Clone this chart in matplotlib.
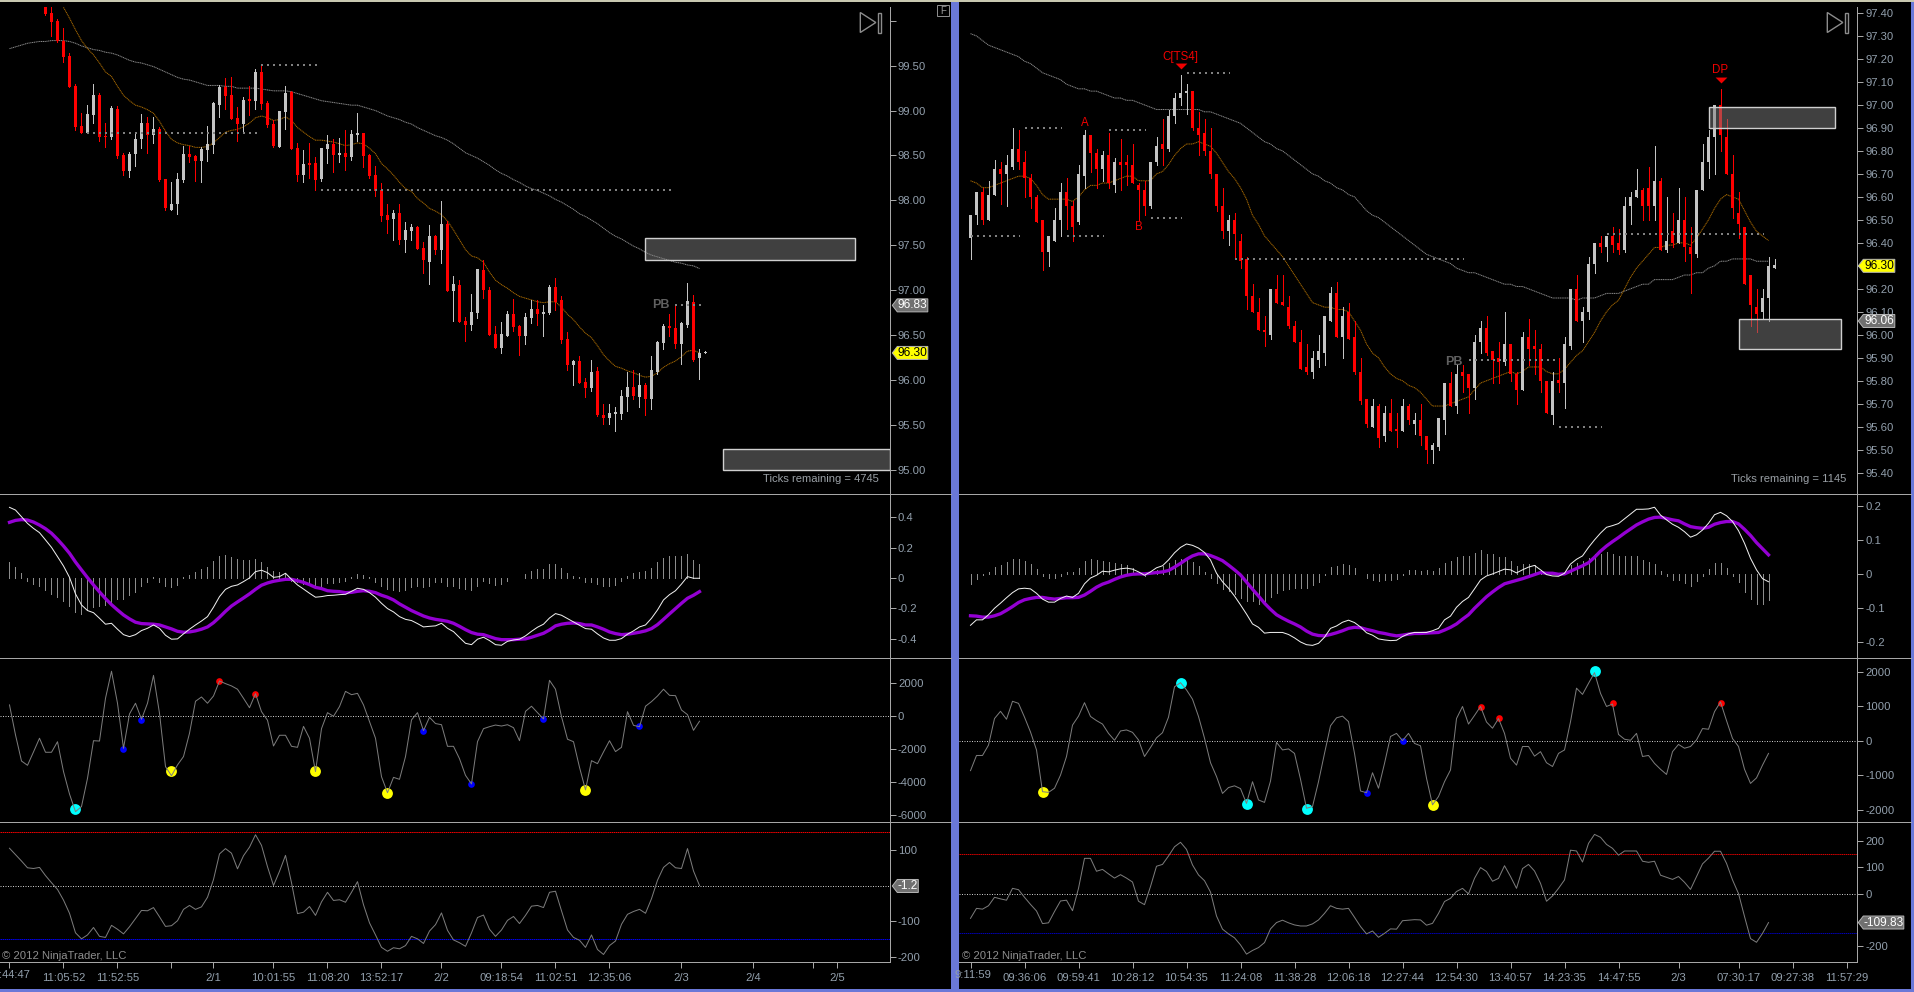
import numpy as np
import matplotlib
matplotlib.use("Agg")
import matplotlib.pyplot as plt
from matplotlib.patches import Polygon, Rectangle

plt.rcParams["font.family"] = ["Liberation Sans", "DejaVu Sans"]
plt.rcParams["axes.unicode_minus"] = False

# ---- left chart: candles start at bar 6, the older ones are above the panel
left_high = [100.20, 100.20, 100.02, 99.92, 99.64, 99.30, 98.97, 99.06, 99.30, 99.20, 98.86, 99.05, 99.05, 98.53, 98.54, 98.75, 98.96, 98.93, 98.93, 98.82,
             98.24, 98.20, 98.30, 98.61, 98.61, 98.50, 98.59, 98.83, 99.10, 99.28, 99.36, 99.37, 99.04, 99.15, 99.27, 99.46, 99.51, 99.11, 98.90, 99.00,
             99.27, 99.22, 98.64, 98.56, 98.64, 98.48, 98.58, 98.73, 98.68, 98.69, 98.78, 98.78, 98.97, 98.75, 98.52, 98.38, 98.19, 97.96, 97.89, 97.96,
             97.76, 97.74, 97.71, 97.54, 97.73, 97.61, 97.99, 97.77, 97.16, 97.11, 96.70, 96.96, 97.24,
             97.34, 97.03, 96.60, 96.64, 96.77, 96.90, 96.61, 96.74, 96.89, 96.89, 96.83, 97.06, 97.13, 96.93, 96.53, 96.22, 96.27, 96.02, 96.22, 96.14,
             95.73, 95.73, 95.70, 95.89, 96.09, 96.11, 96.08, 95.97, 96.27, 96.43, 96.62, 96.73, 96.83, 96.64, 97.08, 96.95, 96.34, 96.32]
left_body_top = [100.20, 100.09, 100.00, 99.77, 99.61, 99.27, 98.83, 98.96, 99.17, 99.17, 98.72, 99.03, 99.02, 98.50, 98.52, 98.68, 98.86, 98.86, 98.79, 98.79,
                 98.24, 97.96, 98.24, 98.52, 98.52, 98.49, 98.57, 98.63, 99.08, 99.26, 99.26, 99.17, 98.92, 99.12, 99.13, 99.43, 99.43, 99.08, 98.85, 99.00,
                 99.20, 99.21, 98.58, 98.40, 98.42, 98.42, 98.58, 98.63, 98.63, 98.53, 98.53, 98.74, 98.75, 98.75, 98.50, 98.28, 98.12, 97.84, 97.86, 97.86,
                 97.67, 97.70, 97.70, 97.47, 97.60, 97.60, 97.74, 97.74, 97.07, 97.06, 96.66, 96.76, 97.24,
                 97.22, 97.00, 96.51, 96.51, 96.73, 96.73, 96.60, 96.70, 96.79, 96.79, 96.76, 97.03, 97.03, 96.89, 96.46, 96.21, 96.21, 95.98, 96.09, 96.10,
                 95.61, 95.63, 95.64, 95.82, 95.92, 95.92, 95.94, 95.94, 96.11, 96.42, 96.60, 96.60, 96.58, 96.63, 96.88, 96.87, 96.30, 96.31]
left_body_bottom = [100.08, 99.99, 99.77, 99.60, 99.26, 98.82, 98.75, 98.75, 98.95, 98.71, 98.71, 98.71, 98.49, 98.33, 98.33, 98.52, 98.68, 98.73, 98.73, 98.23,
                    97.91, 97.89, 97.96, 98.23, 98.48, 98.44, 98.44, 98.56, 98.62, 99.06, 99.16, 98.91, 98.85, 98.85, 99.11, 99.11, 99.07, 98.84, 98.61, 98.59,
                    98.98, 98.57, 98.28, 98.28, 98.39, 98.23, 98.24, 98.57, 98.50, 98.50, 98.48, 98.48, 98.73, 98.49, 98.27, 98.10, 97.83, 97.78, 97.79, 97.56,
                    97.56, 97.66, 97.46, 97.33, 97.31, 97.45, 97.45, 96.99, 96.99, 96.65, 96.61, 96.61, 96.74,
                    97.00, 96.50, 96.36, 96.36, 96.49, 96.59, 96.49, 96.49, 96.69, 96.73, 96.73, 96.74, 96.87, 96.44, 96.17, 96.17, 95.97, 95.91, 95.91, 95.61,
                    95.57, 95.57, 95.62, 95.62, 95.81, 95.82, 95.81, 95.79, 95.79, 96.09, 96.41, 96.58, 96.40, 96.40, 96.61, 96.22, 96.24, 96.30]
left_low = [100.06, 99.83, 99.76, 99.54, 99.26, 98.78, 98.75, 98.75, 98.86, 98.66, 98.59, 98.68, 98.47, 98.28, 98.26, 98.38, 98.58, 98.53, 98.64, 98.22,
            97.89, 97.89, 97.85, 98.20, 98.43, 98.22, 98.20, 98.44, 98.53, 98.93, 99.02, 98.91, 98.66, 98.76, 98.95, 99.02, 99.02, 98.82, 98.59, 98.59,
            98.80, 98.57, 98.22, 98.20, 98.25, 98.12, 98.22, 98.42, 98.32, 98.43, 98.34, 98.45, 98.66, 98.37, 98.25, 98.05, 97.77, 97.64, 97.56, 97.51,
            97.42, 97.56, 97.46, 97.19, 97.07, 97.40, 97.30, 96.99, 96.66, 96.65, 96.43, 96.56, 96.69,
            96.91, 96.50, 96.36, 96.30, 96.49, 96.54, 96.28, 96.40, 96.63, 96.61, 96.49, 96.73, 96.78, 96.41, 96.11, 95.94, 95.97, 95.81, 95.88, 95.60,
            95.51, 95.51, 95.43, 95.56, 95.65, 95.79, 95.70, 95.61, 95.68, 96.07, 96.34, 96.49, 96.36, 96.18, 96.59, 96.21, 96.01, 96.30]
left_colors = ("RRRRRRRGGRRGRRGGGRGRRGGGRRGGGGRRRGRGRRRGGRRGRRGGRGRGGRRRRRGRGGRRGRGRGRRGG"
               "RRRGGRRGGRGGRRRGRRGRRGGGGRGRGGGRRGGRGG")

left_ma_fast = [100.15, 100.03, 99.90, 99.78, 99.69, 99.62, 99.53, 99.43, 99.38, 99.27, 99.17, 99.11, 99.06, 99.04, 99.01, 98.97, 98.88, 98.77, 98.68, 98.64,
                98.62, 98.61, 98.59, 98.59, 98.60, 98.64, 98.70, 98.76, 98.78, 98.79, 98.82, 98.86, 98.92, 98.94, 98.92, 98.89, 98.90, 98.93, 98.89, 98.81,
                98.76, 98.71, 98.67, 98.67, 98.66, 98.65, 98.63, 98.61, 98.62, 98.64, 98.63, 98.58, 98.52, 98.41, 98.35, 98.28, 98.20, 98.13, 98.10, 98.02,
                97.97, 97.91, 97.88, 97.84, 97.77, 97.67, 97.56, 97.45, 97.38, 97.36,
                97.31, 97.20, 97.11, 97.06, 97.02, 96.97, 96.93, 96.91, 96.89, 96.87, 96.86, 96.87, 96.87, 96.81, 96.73, 96.67, 96.59, 96.52, 96.47, 96.38,
                96.28, 96.21, 96.15, 96.13, 96.10, 96.08, 96.05, 96.03, 96.04, 96.08, 96.14, 96.18, 96.21, 96.26, 96.32, 96.33, 96.30]
left_ma_slow = [99.69, 99.71, 99.73, 99.75, 99.76, 99.77, 99.77, 99.78, 99.78, 99.78, 99.77, 99.75, 99.72, 99.70, 99.68, 99.67, 99.65, 99.64, 99.62, 99.59,
                99.56, 99.54, 99.53, 99.51, 99.49, 99.46, 99.43, 99.40, 99.37, 99.35, 99.34, 99.32, 99.30, 99.28, 99.28, 99.28, 99.27, 99.27, 99.25, 99.25,
                99.25, 99.25, 99.24, 99.23, 99.22, 99.22, 99.22, 99.21, 99.19, 99.17, 99.15, 99.13, 99.11, 99.10, 99.09, 99.08, 99.07, 99.06, 99.06, 99.04,
                99.02, 99.00, 98.97, 98.94, 98.92, 98.90, 98.87, 98.85, 98.81, 98.78, 98.75, 98.72, 98.70, 98.67, 98.63, 98.58, 98.53, 98.50, 98.47,
                98.43, 98.39, 98.34, 98.30, 98.27, 98.23, 98.20, 98.16, 98.13, 98.11, 98.08, 98.05, 98.01, 97.98, 97.94, 97.90, 97.85, 97.82, 97.78, 97.74,
                97.69, 97.64, 97.60, 97.57, 97.53, 97.49, 97.46, 97.42, 97.39, 97.37, 97.35, 97.33, 97.31, 97.30, 97.28, 97.27, 97.24]

left_macd = [0.466, 0.448, 0.404, 0.360, 0.327, 0.299, 0.251, 0.202, 0.141, 0.079, 0.004, -0.105, -0.178, -0.215, -0.229, -0.266, -0.305, -0.299, -0.338, -0.374,
             -0.387, -0.374, -0.347, -0.332, -0.310, -0.332, -0.378, -0.404, -0.402, -0.369, -0.338, -0.310, -0.284, -0.255, -0.193, -0.123, -0.075, -0.055, -0.046, -0.024,
             0.000, 0.042, 0.051, 0.035, 0.004, 0.009, 0.031, -0.009, -0.046, -0.073, -0.101, -0.127, -0.123, -0.116, -0.114, -0.110, -0.108, -0.088, -0.068, -0.075,
             -0.097, -0.127, -0.167, -0.202, -0.224, -0.255, -0.273, -0.281, -0.301, -0.323, -0.319, -0.316, -0.299, -0.332, -0.354, -0.393, -0.431, -0.440, -0.404,
             -0.391, -0.413, -0.440, -0.444, -0.418, -0.409, -0.404, -0.382, -0.352, -0.325, -0.305, -0.264, -0.235, -0.246, -0.268, -0.290, -0.312, -0.334, -0.338, -0.369,
             -0.396, -0.411, -0.411, -0.400, -0.371, -0.349, -0.323, -0.310, -0.266, -0.211, -0.145, -0.110, -0.084, -0.040, 0.009, -0.002, -0.002]
left_signal = [0.367, 0.380, 0.385, 0.382, 0.369, 0.349, 0.325, 0.295, 0.255, 0.211, 0.163, 0.105, 0.053, 0.002, -0.046, -0.092, -0.136, -0.176, -0.211, -0.244,
               -0.270, -0.292, -0.301, -0.303, -0.305, -0.310, -0.323, -0.336, -0.352, -0.358, -0.356, -0.349, -0.338, -0.323, -0.295, -0.259, -0.220, -0.185, -0.158, -0.132,
               -0.105, -0.075, -0.048, -0.033, -0.022, -0.015, -0.009, -0.009, -0.018, -0.029, -0.044, -0.062, -0.070, -0.084, -0.088, -0.090, -0.097, -0.095, -0.088, -0.084,
               -0.088, -0.097, -0.114, -0.127, -0.145, -0.171, -0.193, -0.215, -0.233, -0.251, -0.264, -0.273, -0.279, -0.286, -0.299, -0.319, -0.341, -0.360, -0.371,
               -0.374, -0.387, -0.400, -0.407, -0.407, -0.407, -0.404, -0.402, -0.391, -0.378, -0.365, -0.343, -0.316, -0.305, -0.299, -0.297, -0.301, -0.310, -0.310, -0.323,
               -0.338, -0.356, -0.367, -0.374, -0.371, -0.365, -0.358, -0.349, -0.334, -0.308, -0.273, -0.237, -0.202, -0.167, -0.134, -0.114, -0.090]
left_hist = [0.105, 0.073, 0.033, -0.020, -0.040, -0.053, -0.079, -0.105, -0.127, -0.149, -0.185, -0.224, -0.237, -0.211, -0.193, -0.185, -0.178, -0.156, -0.141, -0.136,
             -0.114, -0.090, -0.053, -0.026, 0.004, -0.026, -0.053, -0.059, -0.046, 0.004, 0.020, 0.040, 0.059, 0.073, 0.114, 0.147, 0.152, 0.136, 0.123, 0.121,
             0.121, 0.125, 0.105, 0.070, 0.044, 0.040, 0.035, -0.018, -0.026, -0.040, -0.048, -0.053, -0.053, -0.035, -0.035, -0.026, -0.018, 0.004, 0.026, 0.018,
             0.004, -0.026, -0.053, -0.070, -0.079, -0.084, -0.079, -0.062, -0.053, -0.057, -0.053, -0.026, -0.026, -0.053, -0.053, -0.066, -0.075, -0.079, -0.053,
             -0.018, -0.035, -0.046, -0.040, -0.018, 0.000, 0.000, 0.026, 0.044, 0.059, 0.059, 0.092, 0.092, 0.066, 0.033, 0.013, 0.004, -0.024, -0.026, -0.040,
             -0.053, -0.053, -0.046, -0.022, 0.013, 0.031, 0.042, 0.046, 0.066, 0.105, 0.132, 0.145, 0.145, 0.145, 0.158, 0.119, 0.092]

left_flow = [650, -1170, -2750, -3010, -2200, -1370, -2220, -2220, -1580, -3390, -4750, -5820, -5510, -3800, -1520, -1540, 1050, 2690, 750, -1980,
             100, 750, -220, 750, 2440, 140, -3090, -3640, -2990, -2480, -1070, 870, 1130, 750, 1190, 2100, 1940, 1800, 1600, 1050,
             480, 1330, 240, -280, -1840, -1190, -1190, -1860, -1920, -650, -1370, -3390, -790, 180, -40, 550, 1470, 1270, 1350, 650,
             -360, -1370, -3700, -4670, -3740, -3860, -2480, -260, 180, -910, -100, -480, -550, -1860, -1860, -2610, -3620, -4140, -1580,
             -790, -670, -570, -630, -550, -730, -1520, 260, 570, 180, -200, 2140, 1600, -60, -1430, -1580, -3130, -4500, -2730, -2910,
             -2200, -1520, -2180, -1920, 240, -590, -670, 570, 850, 1190, 1600, 1230, 1210, 340, 60, -890, -340]
left_cci = [105, 87, 69, 50, 48, 51, 28, 8, -11, -41, -78, -133, -150, -139, -118, -143, -146, -112, -123, -136,
            -116, -93, -70, -71, -62, -88, -115, -113, -99, -67, -56, -67, -60, -33, 17, 89, 104, 91, 47, 84,
            108, 143, 113, 53, 0, 40, 85, 8, -79, -75, -59, -84, -46, -19, -42, -40, -47, -19, 11, -54,
            -105, -139, -174, -185, -175, -178, -169, -143, -150, -163, -128, -110, -77, -126, -153, -161, -171, -133, -90,
            -83, -123, -143, -125, -98, -87, -107, -84, -58, -56, -62, -19, -16, -71, -125, -146, -154, -174, -139, -180,
            -194, -169, -156, -109, -81, -73, -67, -78, -37, 15, 51, 65, 50, 48, 104, 41, 0]

left_big_cyan_bar, left_big_cyan = [11], [-5660]
left_yellow_bar, left_yellow = [27, 51, 63, 96], [-3350, -3350, -4670, -4500]
left_blue_bar, left_blue = [19, 22, 69, 77, 89, 105], [-2020, -260, -930, -4140, -200, -630]
left_red_bar, left_red = [35, 41], [2100, 1330]

left_levels = [99.51, 98.75, 98.11, 96.83]
left_level_from = [42, 13, 52, 111]
left_level_to = [51.2, 41.2, 110.3, 115.2]
left_zone_low = [97.34, 95.00]
left_zone_high = [97.58, 95.23]
left_zone_from = [106, 119]
left_zone_to = [141, 146.8]

left_tick_bars = [0, 9, 18, 27, 34, 44, 53, 62, 72, 82, 91, 100, 112, 124, 134, 138]
left_tick_labels = ["", "11:05:52", "11:52:55", "", "2/1", "10:01:55", "11:08:20", "13:52:17", "2/2",
                    "09:18:54", "11:02:51", "12:35:06", "2/3", "2/4", "", "2/5"]

# ---- right chart
right_high = [96.52, 96.62, 96.64, 96.67, 96.76, 96.75, 96.78, 96.90, 96.89, 96.80, 96.70, 96.61, 96.50, 96.43, 96.55, 96.66, 96.68, 96.58, 96.74, 96.89,
              96.87, 96.81, 96.80, 96.88, 96.77, 96.85, 96.78, 96.83, 96.66, 96.67, 96.75, 96.86, 96.94, 96.98, 97.05, 97.13, 97.09, 97.06, 96.97, 96.94,
              96.90, 96.70, 96.64, 96.52, 96.53, 96.44, 96.34, 96.22, 96.16, 96.08, 96.20, 96.26, 96.26, 96.17, 96.06, 96.02, 95.96, 95.93, 96.00, 96.08,
              96.21, 96.23, 96.12, 96.14, 96.06, 95.90, 95.72, 95.72, 95.70, 95.69, 95.72, 95.66, 95.72, 95.70, 95.66, 95.70, 95.56, 95.53,
              95.64, 95.79, 95.84, 95.87, 95.87, 95.83, 96.00, 96.06, 96.08, 95.93, 95.97, 96.10, 95.96, 95.84, 96.01, 96.07, 96.02, 95.96, 95.80, 95.84,
              95.90, 95.99, 96.20, 96.26, 96.12, 96.34, 96.40, 96.43, 96.43, 96.47, 96.46, 96.60, 96.62, 96.72, 96.64, 96.73, 96.82, 96.68, 96.60, 96.53,
              96.64, 96.60, 96.47, 96.63, 96.83, 96.89, 97.00, 97.07, 96.94, 96.78, 96.62, 96.47, 96.26, 96.20, 96.20, 96.34, 96.33]
right_body_top = [96.52, 96.62, 96.62, 96.61, 96.72, 96.72, 96.74, 96.81, 96.81, 96.75, 96.68, 96.60, 96.50, 96.43, 96.50, 96.62, 96.62, 96.56, 96.70, 96.87,
                  96.87, 96.79, 96.78, 96.78, 96.75, 96.75, 96.74, 96.74, 96.65, 96.63, 96.75, 96.82, 96.83, 96.95, 97.03, 97.05, 97.06, 97.06, 96.90, 96.88,
                  96.80, 96.70, 96.56, 96.50, 96.50, 96.41, 96.33, 96.17, 96.10, 96.02, 96.20, 96.20, 96.14, 96.12, 96.04, 95.97, 95.86, 95.90, 95.93, 96.08,
                  96.18, 96.18, 96.08, 96.10, 95.99, 95.84, 95.72, 95.69, 95.69, 95.66, 95.66, 95.59, 95.69, 95.69, 95.63, 95.63, 95.56, 95.52,
                  95.64, 95.79, 95.79, 95.83, 95.84, 95.83, 95.97, 96.03, 96.03, 95.93, 95.90, 95.96, 95.96, 95.83, 95.99, 95.99, 95.94, 95.94, 95.80, 95.80,
                  95.80, 95.96, 96.20, 96.20, 96.10, 96.31, 96.40, 96.40, 96.43, 96.43, 96.40, 96.56, 96.60, 96.63, 96.63, 96.64, 96.67, 96.67, 96.41, 96.45,
                  96.50, 96.50, 96.38, 96.63, 96.75, 96.86, 97.00, 97.00, 96.86, 96.70, 96.53, 96.47, 96.26, 96.12, 96.16, 96.30, 96.30]
right_body_bottom = [96.42, 96.52, 96.50, 96.50, 96.61, 96.70, 96.70, 96.73, 96.75, 96.68, 96.60, 96.49, 96.36, 96.36, 96.41, 96.50, 96.56, 96.47, 96.49, 96.69,
                     96.79, 96.72, 96.72, 96.66, 96.65, 96.74, 96.74, 96.66, 96.63, 96.56, 96.56, 96.75, 96.81, 96.81, 96.95, 97.03, 97.05, 96.90, 96.87, 96.80,
                     96.70, 96.56, 96.45, 96.45, 96.44, 96.32, 96.17, 96.10, 96.02, 96.01, 96.00, 96.14, 96.13, 96.04, 95.97, 95.85, 95.84, 95.84, 95.89, 95.92,
                     96.06, 95.99, 95.99, 95.98, 95.84, 95.71, 95.61, 95.60, 95.55, 95.56, 95.58, 95.58, 95.58, 95.63, 95.61, 95.56, 95.50, 95.50,
                     95.51, 95.63, 95.69, 95.69, 95.82, 95.77, 95.77, 95.97, 95.92, 95.89, 95.88, 95.88, 95.83, 95.76, 95.76, 95.94, 95.94, 95.80, 95.66, 95.65,
                     95.79, 95.79, 95.95, 96.06, 96.06, 96.10, 96.31, 96.38, 96.38, 96.39, 96.37, 96.37, 96.56, 96.60, 96.56, 96.56, 96.56, 96.37, 96.37, 96.40,
                     96.40, 96.38, 96.35, 96.35, 96.63, 96.75, 96.86, 96.87, 96.70, 96.55, 96.48, 96.22, 96.13, 96.09, 96.10, 96.16, 96.29]
right_low = [96.33, 96.48, 96.48, 96.50, 96.61, 96.57, 96.56, 96.72, 96.72, 96.60, 96.55, 96.49, 96.28, 96.30, 96.41, 96.43, 96.46, 96.41, 96.48, 96.64,
             96.71, 96.64, 96.67, 96.64, 96.62, 96.63, 96.65, 96.66, 96.50, 96.52, 96.55, 96.74, 96.74, 96.80, 96.92, 97.00, 96.96, 96.89, 96.78, 96.78,
             96.68, 96.54, 96.42, 96.39, 96.33, 96.29, 96.11, 96.10, 96.02, 95.95, 95.98, 96.14, 96.13, 96.03, 95.97, 95.85, 95.83, 95.81, 95.86, 95.87,
             96.06, 95.99, 95.90, 95.98, 95.83, 95.70, 95.60, 95.60, 95.51, 95.54, 95.58, 95.51, 95.58, 95.61, 95.57, 95.52, 95.44, 95.44,
             95.50, 95.57, 95.69, 95.66, 95.75, 95.66, 95.72, 95.92, 95.91, 95.79, 95.79, 95.87, 95.80, 95.70, 95.76, 95.87, 95.83, 95.75, 95.66, 95.61,
             95.75, 95.68, 95.94, 96.06, 95.97, 96.07, 96.27, 96.36, 96.32, 96.36, 96.35, 96.36, 96.48, 96.60, 96.50, 96.50, 96.50, 96.37, 96.36, 96.38,
             96.40, 96.32, 96.18, 96.34, 96.63, 96.68, 96.70, 96.80, 96.70, 96.51, 96.42, 96.22, 96.04, 96.01, 96.07, 96.06, 96.29]
right_colors = ("GGRGGRGGRRRRRGGGRRGGRRGRGRRRRRGGRGGGGRRRRRRGRRRRRRGRRRRRRGGGGRGRRRRGRGRRGRGRRG"
                "GGRGRRGGRRRGRRGRRRRGRGGRGGGRGRRGGGRRGRGRGRRGGGGRRRRRRRGGG")

right_ma_fast = [96.67, 96.66, 96.64, 96.64, 96.65, 96.66, 96.67, 96.68, 96.69, 96.69, 96.68, 96.65, 96.61, 96.59, 96.59, 96.59, 96.59, 96.58, 96.60, 96.63,
                 96.65, 96.65, 96.66, 96.66, 96.67, 96.68, 96.69, 96.69, 96.67, 96.67, 96.67, 96.70, 96.71, 96.74, 96.78, 96.81, 96.83, 96.83, 96.84, 96.83,
                 96.82, 96.79, 96.75, 96.71, 96.68, 96.64, 96.59, 96.52, 96.48, 96.43, 96.40, 96.37, 96.34, 96.30, 96.26, 96.22, 96.18, 96.14, 96.13, 96.12,
                 96.12, 96.11, 96.11, 96.10, 96.06, 96.02, 95.96, 95.92, 95.90, 95.86, 95.83, 95.81, 95.80, 95.78, 95.77, 95.75, 95.72, 95.69,
                 95.69, 95.69, 95.70, 95.71, 95.72, 95.73, 95.76, 95.79, 95.80, 95.81, 95.82, 95.83, 95.84, 95.83, 95.84, 95.86, 95.86, 95.86, 95.84, 95.83,
                 95.83, 95.85, 95.88, 95.91, 95.93, 95.97, 96.01, 96.06, 96.10, 96.13, 96.15, 96.20, 96.25, 96.29, 96.32, 96.35, 96.38, 96.38, 96.39, 96.39,
                 96.40, 96.40, 96.39, 96.42, 96.46, 96.50, 96.55, 96.59, 96.61, 96.60, 96.59, 96.54, 96.49, 96.45, 96.43, 96.41]
right_ma_slow = [97.31, 97.30, 97.28, 97.26, 97.25, 97.24, 97.23, 97.22, 97.21, 97.19, 97.18, 97.16, 97.14, 97.13, 97.12, 97.11, 97.09, 97.08, 97.07, 97.07,
                 97.06, 97.06, 97.05, 97.04, 97.03, 97.03, 97.02, 97.02, 97.01, 97.00, 96.99, 96.98, 96.98, 96.98, 96.98, 96.98, 96.98, 96.98, 96.98, 96.97,
                 96.97, 96.96, 96.95, 96.94, 96.93, 96.92, 96.90, 96.88, 96.86, 96.84, 96.83, 96.81, 96.80, 96.78, 96.76, 96.74, 96.72, 96.70, 96.69, 96.67,
                 96.66, 96.64, 96.63, 96.61, 96.60, 96.57, 96.54, 96.52, 96.51, 96.49, 96.47, 96.45, 96.43, 96.41, 96.39, 96.37, 96.35, 96.34,
                 96.33, 96.32, 96.31, 96.29, 96.28, 96.27, 96.27, 96.26, 96.25, 96.24, 96.23, 96.22, 96.22, 96.21, 96.21, 96.20, 96.19, 96.18, 96.17, 96.16,
                 96.16, 96.16, 96.16, 96.15, 96.16, 96.16, 96.16, 96.17, 96.18, 96.18, 96.18, 96.19, 96.20, 96.21, 96.22, 96.22, 96.24, 96.24, 96.24, 96.24,
                 96.25, 96.26, 96.26, 96.27, 96.27, 96.29, 96.30, 96.32, 96.32, 96.33, 96.33, 96.33, 96.33, 96.32, 96.32, 96.32]

right_macd = [-0.152, -0.136, -0.136, -0.121, -0.102, -0.087, -0.071, -0.056, -0.045, -0.043, -0.045, -0.058, -0.075, -0.084, -0.084, -0.073, -0.066, -0.070, -0.058, -0.030,
              -0.013, -0.005, 0.007, 0.005, 0.010, 0.014, 0.016, 0.013, 0.005, -0.005, 0.005, 0.017, 0.023, 0.040, 0.061, 0.077, 0.087, 0.083, 0.075, 0.062,
              0.040, 0.001, -0.024, -0.043, -0.066, -0.092, -0.119, -0.148, -0.158, -0.175, -0.173, -0.173, -0.173, -0.179, -0.189, -0.201, -0.209, -0.211, -0.205, -0.187,
              -0.161, -0.154, -0.143, -0.137, -0.144, -0.157, -0.174, -0.181, -0.192, -0.195, -0.197, -0.196, -0.185, -0.177, -0.173, -0.173, -0.173, -0.168,
              -0.161, -0.136, -0.125, -0.099, -0.082, -0.070, -0.045, -0.019, -0.007, -0.001, 0.006, 0.013, 0.011, 0.002, 0.011, 0.019, 0.024, 0.011, -0.003, -0.007,
              -0.008, 0.001, 0.028, 0.042, 0.052, 0.077, 0.099, 0.119, 0.136, 0.141, 0.147, 0.161, 0.175, 0.189, 0.189, 0.190, 0.195, 0.172, 0.158, 0.145,
              0.136, 0.123, 0.107, 0.114, 0.128, 0.148, 0.173, 0.180, 0.170, 0.153, 0.126, 0.089, 0.045, 0.011, -0.015, -0.024]
right_signal = [-0.124, -0.125, -0.128, -0.128, -0.124, -0.118, -0.108, -0.097, -0.085, -0.077, -0.073, -0.070, -0.070, -0.073, -0.075, -0.073, -0.071, -0.071, -0.070, -0.063,
                -0.052, -0.040, -0.031, -0.025, -0.017, -0.010, -0.005, -0.002, -0.001, -0.001, 0.001, 0.003, 0.005, 0.009, 0.019, 0.030, 0.042, 0.052, 0.058, 0.058,
                0.053, 0.046, 0.038, 0.025, 0.011, -0.004, -0.025, -0.046, -0.066, -0.087, -0.105, -0.121, -0.131, -0.140, -0.148, -0.157, -0.169, -0.178, -0.182, -0.183,
                -0.179, -0.174, -0.168, -0.161, -0.158, -0.159, -0.164, -0.168, -0.173, -0.176, -0.180, -0.183, -0.181, -0.178, -0.176, -0.176, -0.175, -0.174,
                -0.173, -0.166, -0.158, -0.148, -0.134, -0.121, -0.102, -0.085, -0.068, -0.054, -0.041, -0.030, -0.025, -0.020, -0.015, -0.009, -0.003, 0.003, 0.001, 0.001,
                -0.002, -0.001, 0.007, 0.015, 0.023, 0.032, 0.048, 0.066, 0.081, 0.094, 0.106, 0.119, 0.131, 0.143, 0.152, 0.160, 0.165, 0.166, 0.162, 0.158,
                0.155, 0.146, 0.138, 0.135, 0.133, 0.136, 0.145, 0.150, 0.153, 0.153, 0.146, 0.130, 0.112, 0.091, 0.073, 0.055]
right_hist = [-0.031, -0.015, -0.004, 0.004, 0.018, 0.025, 0.033, 0.042, 0.042, 0.037, 0.027, 0.013, -0.008, -0.014, -0.012, -0.006, 0.004, 0.004, 0.016, 0.037,
              0.042, 0.040, 0.036, 0.033, 0.030, 0.027, 0.025, 0.016, 0.000, -0.006, 0.000, 0.010, 0.022, 0.031, 0.039, 0.043, 0.039, 0.034, 0.022, 0.006,
              -0.012, -0.027, -0.046, -0.052, -0.061, -0.071, -0.080, -0.081, -0.090, -0.083, -0.069, -0.057, -0.047, -0.045, -0.041, -0.041, -0.041, -0.035, -0.025, -0.004,
              0.018, 0.022, 0.027, 0.024, 0.016, 0.000, -0.014, -0.018, -0.023, -0.020, -0.020, -0.016, -0.003, 0.010, 0.010, 0.009, 0.010, 0.007,
              0.016, 0.030, 0.036, 0.048, 0.051, 0.052, 0.060, 0.068, 0.059, 0.057, 0.048, 0.048, 0.036, 0.022, 0.027, 0.027, 0.024, 0.010, 0.006, 0.004,
              -0.002, 0.003, 0.025, 0.030, 0.037, 0.045, 0.057, 0.057, 0.063, 0.057, 0.051, 0.051, 0.051, 0.051, 0.041, 0.033, 0.029, 0.007, -0.006, -0.020,
              -0.020, -0.027, -0.037, -0.022, -0.006, 0.012, 0.030, 0.030, 0.016, -0.008, -0.025, -0.055, -0.075, -0.090, -0.090, -0.078]

right_flow = [-870, -430, -430, -130, 640, 850, 620, 1140, 1080, 680, 250, -270, -1480, -1500, -1380, -1000, -460, 450, 710, 1100,
              700, 580, 480, 210, 10, 280, 310, 240, 20, -460, -200, 80, 230, 680, 1560, 1680, 1470, 1200, 700, 70,
              -640, -1040, -1530, -1360, -1310, -1390, -1820, -1190, -1720, -1790, -1170, -50, -270, -240, -370, -1120, -1960, -1910, -1190, -370,
              430, 660, 710, 550, -370, -1460, -1510, -930, -1380, -660, 120, 210, 0, 210, -80, -150, -1090, -1860,
              -1620, -1190, -850, 640, 990, 480, 730, 990, 540, 360, 640, 210, -510, -710, -170, -170, -450, -320, -640, -750,
              -370, -270, 550, 1520, 1340, 1660, 1970, 1370, 990, 1060, 180, 40, 10, 210, -460, -430, -660, -830, -980, -320,
              -110, -220, -170, 20, 350, 330, 840, 1120, 580, 60, -170, -830, -1240, -1080, -710, -370]
right_cci = [-94, -56, -59, -46, -14, -20, -25, 20, 15, -14, -41, -66, -114, -111, -68, -28, -25, -65, 20, 134,
             134, 85, 92, 75, 59, 72, 59, 44, -29, -42, 27, 104, 111, 143, 178, 195, 168, 109, 71, 49,
             6, -85, -135, -153, -168, -195, -230, -216, -205, -186, -134, -110, -101, -111, -119, -123, -123, -115, -100, -75,
             -46, -56, -59, -56, -90, -125, -153, -142, -166, -151, -134, -135, -103, -101, -99, -100, -120, -113,
             -75, -30, -18, 8, 20, -1, 58, 99, 84, 47, 58, 106, 65, 20, 95, 111, 86, 39, -29, -9,
             20, 52, 165, 162, 120, 191, 225, 214, 187, 172, 146, 162, 162, 162, 123, 119, 123, 70, 62, 54,
             65, 43, 16, 65, 113, 135, 161, 161, 115, 52, 0, -87, -171, -185, -151, -110]

right_big_cyan_bar, right_big_cyan = [35, 46, 56, 104], [1680, -1840, -1980, 2030]
right_yellow_bar, right_yellow = [12, 77], [-1480, -1880]
right_blue_bar, right_blue = [66, 72], [-1510, 0]
right_red_bar, right_red = [85, 88, 107, 125], [980, 660, 1090, 1090]

right_levels = [96.43, 96.90, 96.89, 96.43, 96.51, 97.14, 96.33, 95.89, 95.60, 96.44]
right_level_from = [0, 9, 23, 16, 30, 36, 44, 83, 98, 106]
right_level_to = [8.3, 15.2, 29.3, 22.3, 35.2, 43.3, 82.3, 97.4, 105.2, 132.3]
right_zone_low = [96.90, 95.94]
right_zone_high = [96.99, 96.07]
right_zone_from = [123, 128]
right_zone_to = [144, 145]

right_tick_bars = [0, 9, 18, 27, 36, 45, 54, 63, 72, 81, 90, 99, 108, 118, 128, 137, 146]
right_tick_labels = ["", "09:36:06", "09:59:41", "10:28:12", "10:54:35", "11:24:08", "11:38:28", "12:06:18", "12:27:44",
                     "12:54:30", "13:40:57", "14:23:35", "14:47:55", "2/3", "07:30:17", "09:27:38", "11:57:29"]

assert len(left_colors) == len(left_high) and len(right_colors) == len(right_high)

SCREEN_W, SCREEN_H = 1915, 992
TEXT = "#93a0ad"
AXIS = "#a6a6a6"
RED = "#ff0000"
GRAY_BAR = "#c4c4c4"
LABEL_SIZE = 8.1
px = 0.72  # one screen pixel in points at dpi 100

fig = plt.figure(figsize=(SCREEN_W / 100, SCREEN_H / 100), dpi=100, facecolor="black")


def panel(x0, x1, y0, y1, xlim, ylim, yticks, ylabels):
    ax = fig.add_axes([x0 / SCREEN_W, 1 - y1 / SCREEN_H, (x1 - x0) / SCREEN_W, (y1 - y0) / SCREEN_H],
                      facecolor="black")
    ax.set_xlim(*xlim)
    ax.set_ylim(*ylim)
    for side in ["left", "top", "bottom"]:
        ax.spines[side].set_visible(False)
    ax.spines["right"].set_color(AXIS)
    ax.spines["right"].set_linewidth(px)
    ax.yaxis.tick_right()
    ax.set_yticks(yticks)
    ax.set_yticklabels(ylabels)
    ax.tick_params(axis="y", colors=AXIS, labelcolor=TEXT, length=4.5, width=px, pad=1, labelsize=LABEL_SIZE)
    ax.set_xticks([])
    return ax


def draw_price(ax, start, high, top, bottom, low, colors, fast, fast_start, slow):
    bars = np.arange(len(high)) + start
    bar_colors = [RED if c == "R" else GRAY_BAR for c in colors]
    ax.plot(np.arange(len(slow)), slow, color="#8a8a8a", lw=px, ls=(0, (1.2, 0.6)), zorder=2)
    ax.plot(np.arange(len(fast)) + fast_start, fast, color="#a86a00", lw=px, ls=(0, (1.2, 0.6)), zorder=2)
    ax.vlines(bars, low, high, colors=bar_colors, lw=px, antialiased=False, zorder=3)
    heights = np.maximum(np.array(top) - np.array(bottom), 0.012)
    ax.bar(bars, heights, bottom=bottom, width=0.6, color=bar_colors, linewidth=0, zorder=3)


def draw_levels(ax, levels, starts, ends):
    for level, a, b in zip(levels, starts, ends):
        ax.plot([a, b], [level, level], color="#808080", lw=2 * px, ls=(0, (1, 2)), zorder=4)


def draw_zones(ax, lows, highs, starts, ends):
    for lo, hi, a, b in zip(lows, highs, starts, ends):
        ax.add_patch(Rectangle((a, lo), b - a, hi - lo, facecolor=(0.5, 0.5, 0.5, 0.5),
                               edgecolor="#cfcfcf", lw=1.0, zorder=5))


def draw_macd(ax, macd, signal, hist):
    bars = np.arange(len(macd))
    ax.vlines(bars, 0, hist, colors="#8c8c8c", lw=px, antialiased=False, zorder=2)
    ax.plot(bars, signal, color="#9400d3", lw=3.3 * px, zorder=3)
    ax.plot(bars, macd, color="#f0f0f0", lw=px, zorder=4)


def draw_flow(ax, flow, cyan_bar, cyan, yellow_bar, yellow, blue_bar, blue, red_bar, red):
    bars = np.arange(len(flow))
    ax.axhline(0, color="#c8c8c8", lw=px, ls=(0, (1, 1.5)), zorder=1)
    ax.plot(cyan_bar, cyan, "o", color="#00ffff", ms=7.8, mew=0, zorder=2)
    ax.plot(yellow_bar, yellow, "o", color="#ffff00", ms=7.8, mew=0, zorder=2)
    ax.plot(blue_bar, blue, "o", color="#0000ff", ms=4.8, mew=0, zorder=2)
    ax.plot(red_bar, red, "o", color="#ff0000", ms=4.8, mew=0, zorder=2)
    ax.plot(bars, flow, color="#7c7c7c", lw=px, zorder=3)


def draw_cci(ax, cci, red_color, blue_color):
    ax.axhline(0, color="#c8c8c8", lw=px, ls=(0, (1, 1.5)), zorder=1)
    ax.axhline(150, color=red_color, lw=px, ls=(0, (1.5, 0.6)), zorder=1)
    ax.axhline(-150, color=blue_color, lw=px, ls=(0, (1.5, 0.6)), zorder=1)
    ax.plot(np.arange(len(cci)), cci, color="#7c7c7c", lw=px, zorder=3)


def bottom_axis(ax, tick_bars, tick_labels):
    ax.spines["bottom"].set_visible(True)
    ax.spines["bottom"].set_color(AXIS)
    ax.spines["bottom"].set_linewidth(px)
    ax.set_xticks(tick_bars)
    ax.set_xticklabels(tick_labels)
    ax.tick_params(axis="x", colors=AXIS, labelcolor=TEXT, length=4.5, width=px, pad=3, labelsize=LABEL_SIZE)


# left chart panels, one bar every 6 px
lx = (-1.583, 146.8)
l1 = panel(0, 890.3, 7, 494.3, lx, (94.725, 100.154),
           [100, 99.5, 99, 98.5, 98, 97.5, 97, 96.5, 96, 95.5, 95],
           ["", "99.50", "99.00", "98.50", "98.00", "97.50", "97.00", "96.50", "96.00", "95.50", "95.00"])
l2 = panel(0, 890.3, 494.3, 658.3, lx, (-0.530, 0.552), [0.4, 0.2, 0, -0.2, -0.4], ["0.4", "0.2", "0", "-0.2", "-0.4"])
l3 = panel(0, 890.3, 658.3, 822.3, lx, (-6464, 3474), [2000, 0, -2000, -4000, -6000],
           ["2000", "0", "-2000", "-4000", "-6000"])
l4 = panel(0, 890.3, 822.3, 962.3, lx, (-216, 178), [100, -100, -200], ["100", "-100", "-200"])

draw_price(l1, 6, left_high, left_body_top, left_body_bottom, left_low, left_colors, left_ma_fast, 9, left_ma_slow)
draw_levels(l1, left_levels, left_level_from, left_level_to)
draw_zones(l1, left_zone_low, left_zone_high, left_zone_from, left_zone_to)
l1.text(108.5, 96.83, "PB", color="#606060", fontsize=9, fontweight="bold", ha="center", va="center", zorder=6)
draw_macd(l2, left_macd, left_signal, left_hist)
draw_flow(l3, left_flow, left_big_cyan_bar, left_big_cyan, left_yellow_bar, left_yellow,
          left_blue_bar, left_blue, left_red_bar, left_red)
draw_cci(l4, left_cci, "#f00000", "#0000f0")
bottom_axis(l4, left_tick_bars, left_tick_labels)

# right chart panels
rx = (-1.917, 147.83)
r1 = panel(959, 1857.5, 7, 494.3, rx, (95.306, 97.426),
           [97.4, 97.3, 97.2, 97.1, 97.0, 96.9, 96.8, 96.7, 96.6, 96.5, 96.4, 96.3, 96.2, 96.1, 96.0, 95.9, 95.8, 95.7, 95.6, 95.5, 95.4],
           ["97.40", "97.30", "97.20", "97.10", "97.00", "96.90", "96.80", "96.70", "96.60", "96.50", "96.40", "", "96.20",
            "96.10", "96.00", "95.90", "95.80", "95.70", "95.60", "95.50", "95.40"])
r2 = panel(959, 1857.5, 494.3, 658.3, rx, (-0.249, 0.233), [0.2, 0.1, 0, -0.1, -0.2], ["0.2", "0.1", "0", "-0.1", "-0.2"])
r3 = panel(959, 1857.5, 658.3, 822.3, rx, (-2367, 2386), [2000, 1000, 0, -1000, -2000],
           ["2000", "1000", "0", "-1000", "-2000"])
r4 = panel(959, 1857.5, 822.3, 962.3, rx, (-261, 271), [200, 100, 0, -200], ["200", "100", "0", "-200"])

draw_price(r1, 0, right_high, right_body_top, right_body_bottom, right_low, right_colors, right_ma_fast, 0, right_ma_slow)
draw_levels(r1, right_levels, right_level_from, right_level_to)
draw_zones(r1, right_zone_low, right_zone_high, right_zone_from, right_zone_to)
r1.text(80.5, 95.88, "PB", color="#606060", fontsize=9, fontweight="bold", ha="center", va="center", zorder=6)
for bar, price, label in zip([35, 19, 28, 125], [97.21, 96.92, 96.47, 97.15], ["C[TS4]", "A", "B", "DP"]):
    r1.text(bar, price, label, color="#f00000", fontsize=8.3, ha="center", va="center", zorder=6)
r1.plot([35, 125], [97.17, 97.11], ls="none", color="#f00000", mew=0, ms=8.5,
        marker=[(-1, 0.5), (1, 0.5), (0, -0.5)], zorder=6)
draw_macd(r2, right_macd, right_signal, right_hist)
draw_flow(r3, right_flow, right_big_cyan_bar, right_big_cyan, right_yellow_bar, right_yellow,
          right_blue_bar, right_blue, right_red_bar, right_red)
draw_cci(r4, right_cci, "#d00000", "#0000b0")
bottom_axis(r4, right_tick_bars, right_tick_labels)

# overlay in screen pixels for window chrome, price flags and notes
over = fig.add_axes([0, 0, 1, 1], facecolor="none")
over.set_xlim(0, SCREEN_W)
over.set_ylim(SCREEN_H, 0)
over.axis("off")

for y in [494.3, 658.3, 822.3]:
    over.plot([0, 951], [y, y], color=AXIS, lw=px)
    over.plot([959, 1911], [y, y], color=AXIS, lw=px)

strip = "#6a78d8"
over.add_patch(Rectangle((951, 0), 8, SCREEN_H, facecolor=strip, lw=0))
over.add_patch(Rectangle((1911, 0), 4, SCREEN_H, facecolor=strip, lw=0))
over.add_patch(Rectangle((0, 989), SCREEN_W, 3, facecolor=strip, lw=0))
over.add_patch(Rectangle((0, 0), SCREEN_W, 2, facecolor="#c8c8b0", lw=0))


def flag(ax, value, label, tip_x, width, face, text_color):
    y = SCREEN_H - ax.transData.transform((0, value))[1]
    verts = [(tip_x, y), (tip_x + 5, y - 6.5), (tip_x + width, y - 6.5), (tip_x + width, y + 6.5), (tip_x + 5, y + 6.5)]
    over.add_patch(Polygon(verts, closed=True, facecolor=face, edgecolor="#b4b4b4", lw=px, zorder=8))
    over.text(tip_x + 5 + (width - 5) / 2, y, label, color=text_color, fontsize=8.6, ha="center", va="center", zorder=9)


flag(l1, 96.83, "96.83", 892.3, 35.5, "#707070", "white")
flag(l1, 96.30, "96.30", 892.3, 35.5, "#ffff00", "black")
flag(l4, -1.2, "-1.2", 892.3, 26, "#707070", "white")
flag(r1, 96.30, "96.30", 1858.3, 36.5, "#ffff00", "black")
flag(r1, 96.06, "96.06", 1858.3, 36.5, "#707070", "white")
flag(r4, -109.83, "-109.83", 1858.3, 45.5, "#707070", "white")

for x0 in [860.3, 1827.3]:
    over.add_patch(Polygon([(x0, 12.5), (x0 + 15.5, 22.5), (x0, 32.5)], closed=True, fill=False, edgecolor="#8c8c8c", lw=1.0))
    over.add_patch(Rectangle((x0 + 17.5, 12.5), 3.2, 20, fill=False, edgecolor="#8c8c8c", lw=1.0))
over.add_patch(Rectangle((937.3, 5.3), 12, 11, fill=False, edgecolor="#8c8c8c", lw=px))
over.text(943.3, 11, "F", color="#9a9a9a", fontsize=7, ha="center", va="center")

over.text(879, 479, "Ticks remaining = 4745", color="#9aa0a6", fontsize=LABEL_SIZE, ha="right", va="center")
over.text(1846, 479, "Ticks remaining = 1145", color="#9aa0a6", fontsize=LABEL_SIZE, ha="right", va="center")
over.text(2, 956, "\u00a9 2012 NinjaTrader, LLC", color="#8e8e8e", fontsize=LABEL_SIZE, ha="left", va="center")
over.text(962, 956, "\u00a9 2012 NinjaTrader, LLC", color="#8e8e8e", fontsize=LABEL_SIZE, ha="left", va="center")
# first time labels are cut by the window edge, only their tails show
over.text(30, 975, ":44:47", color=TEXT, fontsize=LABEL_SIZE, ha="right", va="center")
over.text(991, 975, "9:11:59", color=TEXT, fontsize=LABEL_SIZE, ha="right", va="center")

fig.savefig("out.png", dpi=100, facecolor="black")
plt.close(fig)
print("Saved: out.png")
